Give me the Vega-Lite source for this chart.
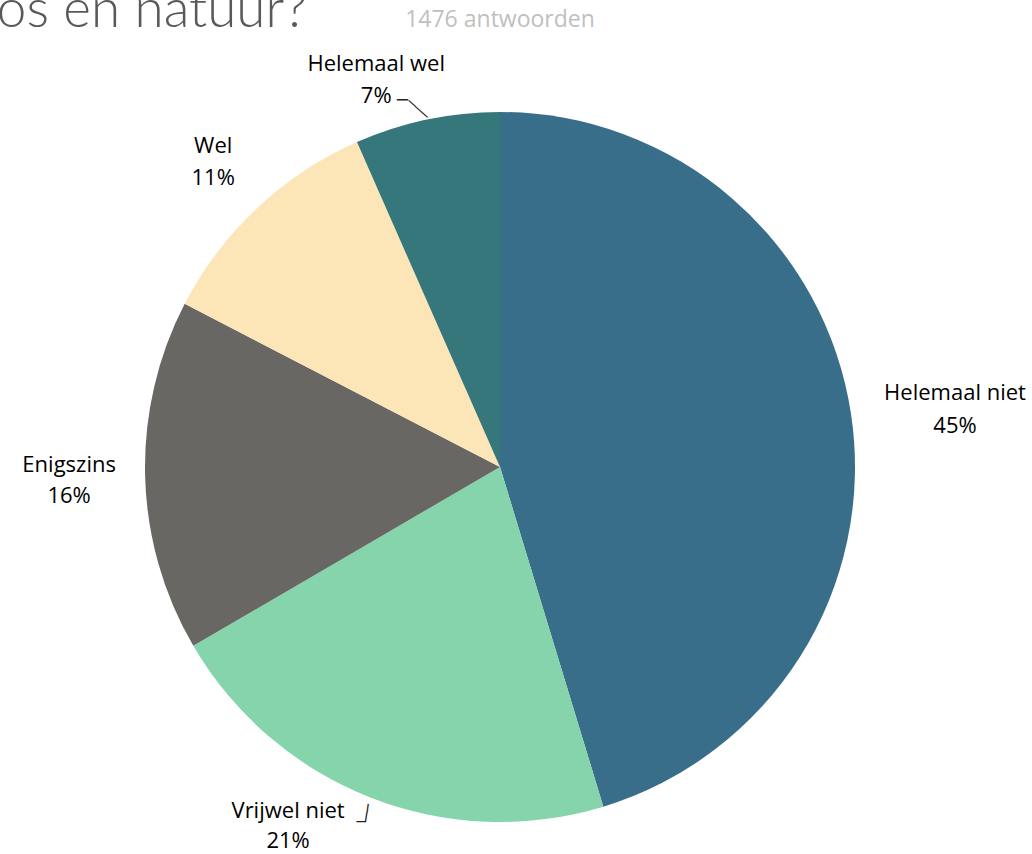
{
  "$schema": "https://vega.github.io/schema/vega-lite/v6.json",
  "autosize": {"type": "none"},
  "width": 1000,
  "height": 814,
  "padding": {"left": 0, "top": 60, "right": 32, "bottom": 0},
  "background": "white",
  "data": {
    "values": [
      {"i": 1, "cat": "Helemaal niet", "pct": 45.3},
      {"i": 2, "cat": "Vrijwel niet", "pct": 21.3},
      {"i": 3, "cat": "Enigszins", "pct": 16.0},
      {"i": 4, "cat": "Wel", "pct": 10.8},
      {"i": 5, "cat": "Helemaal wel", "pct": 6.6}
    ]
  },
  "transform": [
    {"stack": "pct", "groupby": [], "sort": [{"field": "i"}], "as": ["p0", "p1"]},
    {"calculate": "(datum.p0 + datum.p1) / 2", "as": "mid"},
    {"calculate": "datum.cat + '\\n' + format(datum.pct, '.0f') + '%'", "as": "label"}
  ],
  "layer": [
    {
      "mark": {"type": "arc", "outerRadius": 355},
      "encoding": {
        "theta": {"field": "p0", "type": "quantitative", "scale": {"domain": [0, 100]}},
        "theta2": {"field": "p1"},
        "color": {
          "field": "cat",
          "type": "nominal",
          "scale": {
            "domain": ["Helemaal niet", "Vrijwel niet", "Enigszins", "Wel", "Helemaal wel"],
            "range": ["#386E8A", "#85D4AB", "#696764", "#FCE5B6", "#35777A"]
          },
          "legend": null
        }
      }
    },
    {
      "transform": [{"filter": "datum.i == 1"}],
      "mark": {"type": "text", "radius": 459, "dx": 1, "dy": -6, "lineBreak": "\n", "lineHeight": 33, "font": "Open Sans", "fontSize": 22, "color": "#000000", "baseline": "middle", "align": "center"},
      "encoding": {
        "theta": {"field": "mid", "type": "quantitative", "scale": {"domain": [0, 100]}},
        "text": {"field": "label"}
      }
    },
    {
      "transform": [{"filter": "datum.i == 2"}],
      "mark": {"type": "text", "radius": 416, "dx": -60, "dy": -43, "lineBreak": "\n", "lineHeight": 30, "font": "Open Sans", "fontSize": 22, "color": "#000000", "baseline": "middle", "align": "center"},
      "encoding": {
        "theta": {"field": "mid", "type": "quantitative", "scale": {"domain": [0, 100]}},
        "text": {"field": "label"}
      }
    },
    {
      "transform": [{"filter": "datum.i == 3"}],
      "mark": {"type": "text", "radius": 431, "dx": 0, "dy": -13, "lineBreak": "\n", "lineHeight": 31, "font": "Open Sans", "fontSize": 22, "color": "#000000", "baseline": "middle", "align": "center"},
      "encoding": {
        "theta": {"field": "mid", "type": "quantitative", "scale": {"domain": [0, 100]}},
        "text": {"field": "label"}
      }
    },
    {
      "transform": [{"filter": "datum.i == 4"}],
      "mark": {"type": "text", "radius": 419, "dx": 0, "dy": -16, "lineBreak": "\n", "lineHeight": 32, "font": "Open Sans", "fontSize": 22, "color": "#000000", "baseline": "middle", "align": "center"},
      "encoding": {
        "theta": {"field": "mid", "type": "quantitative", "scale": {"domain": [0, 100]}},
        "text": {"field": "label"}
      }
    },
    {
      "transform": [{"filter": "datum.i == 5"}],
      "mark": {"type": "text", "radius": 407, "dx": -40, "dy": -5, "lineBreak": "\n", "lineHeight": 32, "font": "Open Sans", "fontSize": 22, "color": "#000000", "baseline": "middle", "align": "center"},
      "encoding": {
        "theta": {"field": "mid", "type": "quantitative", "scale": {"domain": [0, 100]}},
        "text": {"field": "label"}
      }
    },
    {
      "transform": [{"filter": "datum.i == 5"}],
      "mark": {"type": "text", "text": "─", "theta": 6.0228, "radius": 378.8, "font": "DejaVu Sans Mono", "fontSize": 18, "color": "#222222", "baseline": "middle", "align": "center"},
      "encoding": {}
    },
    {
      "transform": [{"filter": "datum.i == 5"}],
      "mark": {"type": "text", "text": "───", "theta": 6.0563, "radius": 366.9, "angle": 41.8, "font": "DejaVu Sans Mono", "fontSize": 14, "color": "#222222", "baseline": "middle", "align": "center"},
      "encoding": {}
    },
    {
      "transform": [{"filter": "datum.i == 2"}],
      "mark": {"type": "text", "text": "─", "theta": 3.515, "radius": 381.2, "font": "DejaVu Sans Mono", "fontSize": 15, "color": "#222222", "baseline": "middle", "align": "center"},
      "encoding": {}
    },
    {
      "transform": [{"filter": "datum.i == 2"}],
      "mark": {"type": "text", "text": "──", "theta": 3.5086, "radius": 370.7, "angle": 278.4, "font": "DejaVu Sans Mono", "fontSize": 15, "color": "#222222", "baseline": "middle", "align": "center"},
      "encoding": {}
    },
    {
      "transform": [{"filter": "datum.i == 1"}],
      "mark": {"type": "text", "text": "1476 antwoorden", "radius": 447, "theta": 0, "font": "Open Sans", "fontSize": 23, "color": "#BFBFBF", "baseline": "middle", "align": "center"},
      "encoding": {}
    },
    {
      "transform": [{"filter": "datum.i == 1"}],
      "mark": {"type": "text", "text": "bos en natuur?", "radius": 480.5, "theta": 5.87, "font": "Lato", "fontWeight": 300, "fontSize": 53, "color": "#595959", "baseline": "alphabetic", "align": "right"},
      "encoding": {}
    }
  ],
  "config": {"view": {"stroke": null}}
}
